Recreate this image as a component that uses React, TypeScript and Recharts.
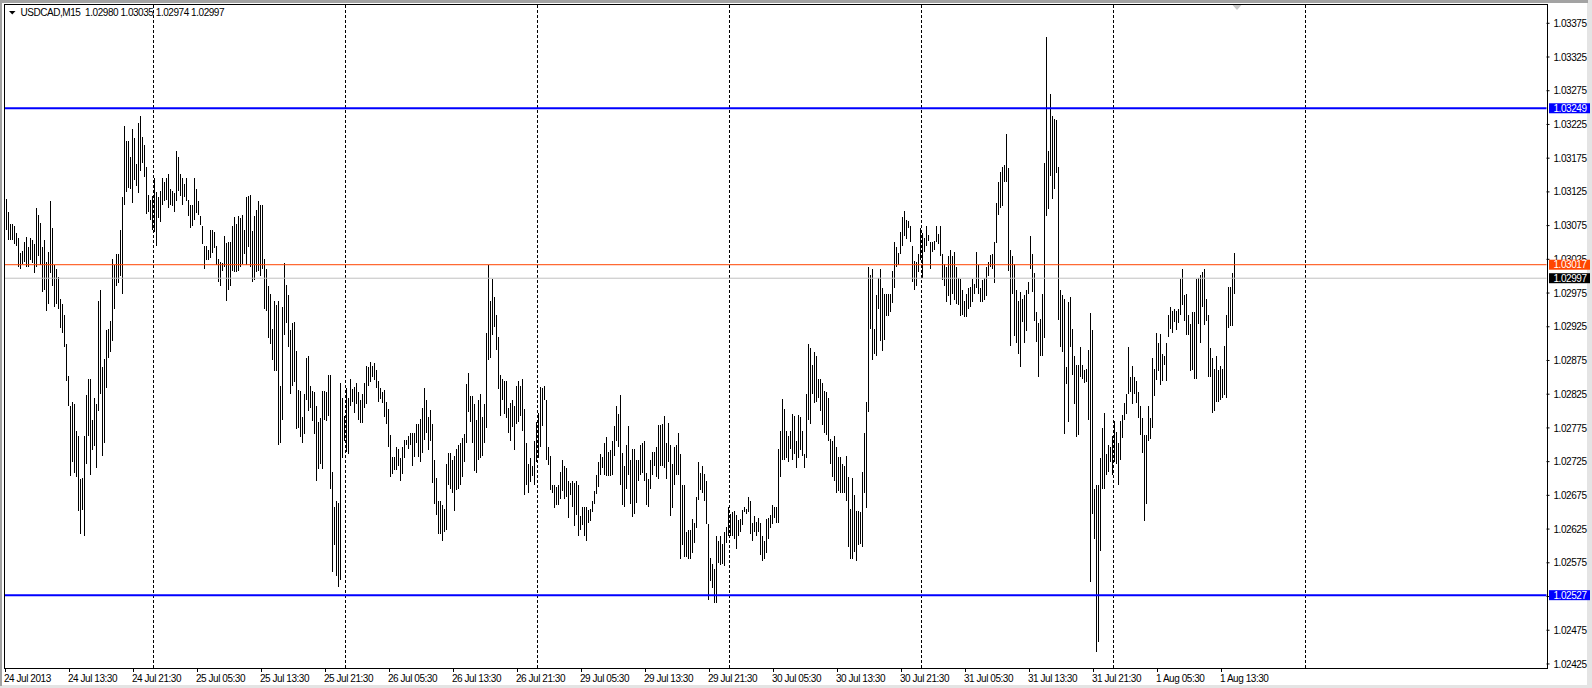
import React from 'react';
import { ComposedChart, Bar, XAxis, YAxis, ReferenceLine } from 'recharts';

// ---- data (USDCAD M15, one entry per 15-minute bar) ----
const SYMBOL = 'USDCAD,M15';
const lastBarOHLC = [1.0298, 1.03035, 1.02974, 1.02997];

const highs = [
  1.03115,1.03095,1.03078,1.03078,1.03074,1.03064,1.03057,1.03034,1.03037,1.03051,
  1.03058,1.03043,1.03057,1.03054,1.03048,1.03101,1.03091,1.03079,1.03043,1.03054,
  1.03021,1.03036,1.03112,1.03071,1.03017,1.03011,1.02999,1.02966,1.02959,1.02943,
  1.02899,1.02852,1.02808,1.02813,1.02810,1.02771,1.02763,1.02699,1.02701,1.02763,
  1.02824,1.02847,1.02848,1.02787,1.02820,1.02810,1.02963,1.02979,1.02866,1.02877,
  1.02920,1.02922,1.02934,1.03026,1.03016,1.03033,1.03033,1.03068,1.03117,1.03223,
  1.03200,1.03200,1.03176,1.03218,1.03205,1.03166,1.03227,1.03238,1.03207,1.03194,
  1.03162,1.03121,1.03113,1.03119,1.03145,1.03125,1.03118,1.03127,1.03145,1.03139,
  1.03146,1.03152,1.03129,1.03127,1.03124,1.03185,1.03177,1.03152,1.03146,1.03136,
  1.03146,1.03113,1.03106,1.03105,1.03145,1.03130,1.03111,1.03089,1.03074,1.03045,
  1.03045,1.03039,1.03068,1.03068,1.03066,1.03045,1.03026,1.03021,1.03020,1.03060,
  1.03049,1.03051,1.03051,1.03074,1.03088,1.03077,1.03089,1.03086,1.03091,1.03068,
  1.03118,1.03119,1.03121,1.03067,1.03089,1.03098,1.03111,1.03106,1.03106,1.03026,
  1.03010,1.02986,1.02974,1.02922,1.02963,1.02958,1.02963,1.02837,1.02954,1.03020,
  1.02987,1.02972,1.02920,1.02930,1.02932,1.02889,1.02831,1.02830,1.02791,1.02826,
  1.02879,1.02882,1.02837,1.02830,1.02828,1.02808,1.02784,1.02790,1.02830,1.02830,
  1.02828,1.02854,1.02853,1.02709,1.02658,1.02667,1.02664,1.02841,1.02819,1.02793,
  1.02834,1.02820,1.02848,1.02832,1.02835,1.02842,1.02828,1.02816,1.02825,1.02842,
  1.02867,1.02866,1.02873,1.02867,1.02871,1.02861,1.02845,1.02834,1.02828,1.02831,
  1.02813,1.02803,1.02765,1.02732,1.02732,1.02746,1.02743,1.02731,1.02746,1.02757,
  1.02757,1.02763,1.02767,1.02767,1.02767,1.02781,1.02781,1.02788,1.02804,1.02834,
  1.02816,1.02791,1.02801,1.02781,1.02728,1.02701,1.02667,1.02667,1.02661,1.02655,
  1.02721,1.02738,1.02738,1.02728,1.02734,1.02744,1.02750,1.02752,1.02760,1.02766,
  1.02840,1.02857,1.02822,1.02822,1.02810,1.02787,1.02816,1.02826,1.02791,1.02810,
  1.02916,1.03017,1.02963,1.02996,1.02969,1.02942,1.02910,1.02854,1.02848,1.02845,
  1.02845,1.02804,1.02812,1.02816,1.02807,1.02837,1.02845,1.02837,1.02847,1.02803,
  1.02753,1.02722,1.02731,1.02719,1.02756,1.02784,1.02797,1.02835,1.02834,1.02837,
  1.02816,1.02746,1.02734,1.02691,1.02690,1.02687,1.02690,1.02709,1.02728,1.02718,
  1.02716,1.02696,1.02693,1.02696,1.02693,1.02697,1.02691,1.02644,1.02658,1.02658,
  1.02658,1.02654,1.02655,1.02667,1.02681,1.02705,1.02725,1.02737,1.02732,1.02752,
  1.02762,1.02740,1.02742,1.02755,1.02778,1.02808,1.02796,1.02824,1.02738,1.02718,
  1.02749,1.02778,1.02728,1.02744,1.02743,1.02728,1.02728,1.02750,1.02753,1.02755,
  1.02708,1.02699,1.02728,1.02740,1.02740,1.02747,1.02779,1.02779,1.02781,1.02793,
  1.02752,1.02783,1.02750,1.02722,1.02746,1.02749,1.02767,1.02737,1.02691,1.02691,
  1.02620,1.02624,1.02624,1.02640,1.02634,1.02672,1.02724,1.02708,1.02719,1.02706,
  1.02697,1.02633,1.02582,1.02573,1.02566,1.02615,1.02607,1.02615,1.02603,1.02620,
  1.02628,1.02658,1.02648,1.02650,1.02652,1.02646,1.02638,1.02640,1.02654,1.02658,
  1.02655,1.02672,1.02667,1.02634,1.02644,1.02636,1.02642,1.02634,1.02614,1.02608,
  1.02640,1.02642,1.02646,1.02661,1.02658,1.02658,1.02743,1.02771,1.02818,1.02803,
  1.02771,1.02763,1.02771,1.02796,1.02793,1.02755,1.02794,1.02791,1.02771,1.02736,
  1.02825,1.02900,1.02894,1.02869,1.02887,1.02881,1.02848,1.02847,1.02842,1.02830,
  1.02828,1.02820,1.02759,1.02756,1.02763,1.02746,1.02732,1.02732,1.02722,1.02719,
  1.02734,1.02702,1.02655,1.02701,1.02675,1.02652,1.02652,1.02650,1.02709,1.02767,
  1.02814,1.03013,1.03002,1.03011,1.02922,1.02972,1.02998,1.03010,1.02982,1.02974,
  1.02974,1.02973,1.02973,1.03007,1.03051,1.03043,1.03035,1.03065,1.03088,1.03096,
  1.03084,1.03082,1.03074,1.03045,1.03023,1.03021,1.03033,1.03071,1.03064,1.03057,
  1.03074,1.03061,1.03051,1.03051,1.03052,1.03074,1.03062,1.03074,1.03033,1.03018,
  1.03013,1.03030,1.03039,1.03030,1.03036,1.03013,1.02998,1.02996,1.02980,1.02963,
  1.02973,1.02983,1.02984,1.02996,1.02989,1.03036,1.03017,1.02982,1.02995,1.02998,
  1.03013,1.03021,1.03031,1.03033,1.03051,1.03108,1.03139,1.03155,1.03162,1.03165,
  1.03211,1.03160,1.03039,1.03030,1.03018,1.02980,1.02963,1.02977,1.02966,1.02972,
  1.02980,1.02992,1.03060,1.03033,1.03004,1.02947,1.02930,1.02936,1.02974,1.03168,
  1.03354,1.03186,1.03270,1.03238,1.03233,1.03231,1.03162,1.02980,1.02972,1.02966,
  1.02866,1.02961,1.02969,1.02922,1.02881,1.02869,1.02869,1.02895,1.02869,1.02861,
  1.02863,1.02891,1.02946,1.02920,1.02685,1.02690,1.02690,1.02731,1.02775,1.02797,
  1.02736,1.02749,1.02746,1.02763,1.02785,1.02769,1.02752,1.02785,1.02794,1.02812,
  1.02826,1.02895,1.02851,1.02867,1.02851,1.02844,1.02828,1.02807,1.02790,1.02765,
  1.02765,1.02808,1.02790,1.02879,1.02863,1.02916,1.02901,1.02914,1.02884,1.02882,
  1.02901,1.02943,1.02954,1.02949,1.02951,1.02949,1.02951,1.02996,1.03010,1.02972,
  1.02973,1.02942,1.02929,1.02947,1.02947,1.02996,1.02998,1.03002,1.03006,1.03010,
  1.02966,1.02943,1.02894,1.02879,1.02863,1.02881,1.02861,1.02867,1.02863,1.02896,
  1.02943,1.02984,1.02984,1.03004,1.03035,
];

const lows = [
  1.03068,1.03054,1.03053,1.03054,1.03048,1.03045,1.03014,1.03010,1.03018,1.03021,
  1.03014,1.03013,1.03024,1.03020,1.03005,1.03013,1.03030,1.03016,1.02976,1.02979,
  1.02949,1.02959,1.03004,1.02986,1.02954,1.02959,1.02951,1.02923,1.02916,1.02895,
  1.02844,1.02807,1.02703,1.02725,1.02708,1.02702,1.02652,1.02617,1.02654,1.02614,
  1.02722,1.02763,1.02705,1.02742,1.02748,1.02715,1.02800,1.02825,1.02734,1.02752,
  1.02834,1.02878,1.02887,1.02904,1.02951,1.02985,1.02990,1.03001,1.02973,1.03106,
  1.03125,1.03131,1.03130,1.03109,1.03142,1.03133,1.03124,1.03156,1.03168,1.03147,
  1.03092,1.03095,1.03083,1.03068,1.03065,1.03045,1.03086,1.03080,1.03105,1.03112,
  1.03113,1.03101,1.03106,1.03104,1.03095,1.03112,1.03127,1.03119,1.03105,1.03118,
  1.03112,1.03089,1.03072,1.03074,1.03084,1.03094,1.03090,1.03076,1.03048,1.03011,
  1.03024,1.03024,1.03027,1.03035,1.03042,1.03016,1.02992,1.02986,1.03007,1.03013,
  1.02963,1.02979,1.02986,1.03007,1.03006,1.03006,1.03008,1.03013,1.03018,1.03033,
  1.03017,1.03043,1.03014,1.02991,1.02994,1.03006,1.03008,1.03001,1.03010,1.02951,
  1.02948,1.02908,1.02900,1.02875,1.02860,1.02860,1.02749,1.02753,1.02787,1.02913,
  1.02930,1.02895,1.02826,1.02837,1.02843,1.02773,1.02775,1.02762,1.02752,1.02766,
  1.02816,1.02800,1.02805,1.02785,1.02766,1.02696,1.02714,1.02722,1.02714,1.02787,
  1.02785,1.02793,1.02684,1.02561,1.02601,1.02555,1.02539,1.02549,1.02731,1.02755,
  1.02740,1.02737,1.02808,1.02813,1.02797,1.02810,1.02787,1.02783,1.02783,1.02805,
  1.02810,1.02837,1.02843,1.02851,1.02846,1.02834,1.02813,1.02818,1.02812,1.02791,
  1.02781,1.02746,1.02702,1.02706,1.02712,1.02712,1.02719,1.02697,1.02706,1.02731,
  1.02750,1.02744,1.02750,1.02719,1.02732,1.02752,1.02732,1.02724,1.02738,1.02757,
  1.02767,1.02742,1.02755,1.02693,1.02662,1.02646,1.02618,1.02617,1.02608,1.02621,
  1.02623,1.02691,1.02684,1.02678,1.02652,1.02683,1.02684,1.02690,1.02702,1.02725,
  1.02752,1.02799,1.02784,1.02752,1.02711,1.02708,1.02728,1.02730,1.02734,1.02752,
  1.02775,1.02875,1.02879,1.02913,1.02925,1.02891,1.02832,1.02793,1.02816,1.02796,
  1.02790,1.02767,1.02756,1.02777,1.02742,1.02781,1.02784,1.02793,1.02771,1.02675,
  1.02690,1.02679,1.02695,1.02703,1.02690,1.02725,1.02731,1.02746,1.02778,1.02816,
  1.02728,1.02720,1.02683,1.02679,1.02656,1.02661,1.02661,1.02670,1.02681,1.02670,
  1.02672,1.02642,1.02675,1.02658,1.02630,1.02646,1.02614,1.02624,1.02631,1.02614,
  1.02607,1.02634,1.02637,1.02650,1.02662,1.02677,1.02687,1.02705,1.02716,1.02705,
  1.02703,1.02703,1.02703,1.02705,1.02734,1.02755,1.02746,1.02691,1.02661,1.02658,
  1.02684,1.02705,1.02662,1.02643,1.02648,1.02664,1.02696,1.02705,1.02708,1.02696,
  1.02661,1.02658,1.02684,1.02705,1.02719,1.02702,1.02699,1.02719,1.02718,1.02715,
  1.02699,1.02724,1.02644,1.02656,1.02690,1.02705,1.02705,1.02580,1.02602,1.02583,
  1.02583,1.02580,1.02581,1.02590,1.02605,1.02627,1.02668,1.02683,1.02679,1.02667,
  1.02633,1.02520,1.02548,1.02538,1.02515,1.02515,1.02574,1.02572,1.02573,1.02570,
  1.02605,1.02614,1.02614,1.02614,1.02611,1.02596,1.02614,1.02620,1.02631,1.02650,
  1.02648,1.02650,1.02617,1.02608,1.02620,1.02614,1.02620,1.02586,1.02577,1.02581,
  1.02590,1.02611,1.02626,1.02633,1.02642,1.02634,1.02634,1.02702,1.02728,1.02728,
  1.02730,1.02724,1.02743,1.02728,1.02736,1.02716,1.02731,1.02742,1.02734,1.02716,
  1.02731,1.02787,1.02781,1.02825,1.02812,1.02813,1.02819,1.02800,1.02779,1.02767,
  1.02765,1.02755,1.02722,1.02702,1.02696,1.02679,1.02681,1.02679,1.02679,1.02678,
  1.02667,1.02599,1.02580,1.02581,1.02591,1.02577,1.02601,1.02603,1.02599,1.02678,
  1.02656,1.02798,1.02922,1.02875,1.02884,1.02882,1.02951,1.02904,1.02889,1.02906,
  1.02941,1.02941,1.02947,1.02960,1.02983,1.03014,1.03017,1.03033,1.03045,1.03060,
  1.03055,1.03071,1.03051,1.02992,1.02980,1.02986,1.03006,1.03024,1.02998,1.03036,
  1.03045,1.03052,1.03011,1.03036,1.03039,1.03051,1.03048,1.03030,1.02994,1.02986,
  1.02961,1.02970,1.02957,1.02974,1.02965,1.02959,1.02957,1.02941,1.02942,1.02939,
  1.02939,1.02951,1.02955,1.02961,1.02973,1.02983,1.02973,1.02961,1.02961,1.02965,
  1.02970,1.03000,1.03013,1.03010,1.02990,1.03049,1.03090,1.03101,1.03104,1.03139,
  1.03139,1.03007,1.02896,1.02974,1.02912,1.02901,1.02884,1.02866,1.02932,1.02901,
  1.02918,1.02973,1.03010,1.02977,1.02934,1.02902,1.02850,1.02881,1.02882,1.02908,
  1.03089,1.03099,1.03149,1.03115,1.03130,1.03153,1.02935,1.02895,1.02887,1.02766,
  1.02840,1.02784,1.02895,1.02854,1.02810,1.02762,1.02765,1.02851,1.02847,1.02841,
  1.02843,1.02787,1.02546,1.02648,1.02611,1.02442,1.02457,1.02592,1.02684,1.02684,
  1.02705,1.02709,1.02724,1.02705,1.02724,1.02722,1.02691,1.02728,1.02760,1.02787,
  1.02796,1.02825,1.02828,1.02810,1.02825,1.02812,1.02789,1.02765,1.02738,1.02637,
  1.02662,1.02755,1.02758,1.02775,1.02822,1.02846,1.02859,1.02838,1.02844,1.02869,
  1.02844,1.02910,1.02922,1.02916,1.02932,1.02920,1.02930,1.02943,1.02957,1.02934,
  1.02913,1.02913,1.02860,1.02861,1.02848,1.02847,1.02929,1.02901,1.02954,1.02928,
  1.02934,1.02851,1.02850,1.02797,1.02800,1.02813,1.02814,1.02816,1.02819,1.02824,
  1.02820,1.02923,1.02926,1.02926,1.02974,
];

// time axis: label every 32 bars (8 hours)
const timeLabels = [
  '24 Jul 2013', '24 Jul 13:30', '24 Jul 21:30', '25 Jul 05:30', '25 Jul 13:30',
  '25 Jul 21:30', '26 Jul 05:30', '26 Jul 13:30', '26 Jul 21:30', '29 Jul 05:30',
  '29 Jul 13:30', '29 Jul 21:30', '30 Jul 05:30', '30 Jul 13:30', '30 Jul 21:30',
  '31 Jul 05:30', '31 Jul 13:30', '31 Jul 21:30', '1 Aug 05:30', '1 Aug 13:30',
];
const BARS_PER_LABEL = 32;
// bar index of each day start (00:00)
const daySeparators = [74, 170, 266, 362, 458, 554, 650];
// total visible time slots (incl. empty space on the right)
const TOTAL_SLOTS = 771;

const priceTicks = [
  1.02425, 1.02475, 1.02525, 1.02575, 1.02625, 1.02675, 1.02725, 1.02775, 1.02825, 1.02875,
  1.02925, 1.02975, 1.03025, 1.03075, 1.03125, 1.03175, 1.03225, 1.03275, 1.03325, 1.03375,
];
const priceDomain = [1.02419, 1.034036];

const channelLevels = [1.03249, 1.02527];
const alertLevel = 1.03017;
const bidLevel = 1.02997;

// ---- chart ----
const FONT = '"Liberation Sans", Arial, sans-serif';
const CHART_W = 1592;
const CHART_H = 688;
const MARGIN = { top: 4, right: 0, bottom: 0, left: 4.5 };

const data = Array.from({ length: TOTAL_SLOTS }, (_, i) => ({
  i,
  range: i < highs.length ? [lows[i], highs[i]] : null,
}));
const labelIndices = timeLabels.map((_, k) => k * BARS_PER_LABEL);

const HLBar = (props: any) => {
  const { x, y, height, payload } = props;
  if (!payload || !payload.range) return <g />;
  const top = Math.min(y, y + height);
  const h = Math.max(1, Math.abs(height));
  return (
    <rect
      x={Math.floor(x + 0.6)}
      y={top}
      width={1}
      height={h}
      fill="#000"
      shapeRendering="crispEdges"
    />
  );
};

const PriceTag = (props: any) => {
  const { viewBox, value, bg, fg } = props;
  if (!viewBox) return null;
  const x0 = viewBox.x + viewBox.width + 2.5;
  const y0 = viewBox.y;
  return (
    <g>
      <rect x={x0} y={y0 - 5} width={41} height={10} fill={bg} />
      <text
        x={x0 + 4.5}
        y={y0 + 3.6}
        fill={fg}
        fontFamily={FONT}
        fontSize={10}
        letterSpacing={-0.45}
      >
        {value.toFixed(5)}
      </text>
    </g>
  );
};

const XTick = (props: any) => {
  const { x, y, payload } = props;
  const label = timeLabels[Math.round(payload.value / BARS_PER_LABEL)];
  return (
    <text
      x={x - 1.5}
      y={y + 9.5}
      fill="#000"
      fontFamily={FONT}
      fontSize={10}
      letterSpacing={-0.45}
      textAnchor="start"
    >
      {label}
    </text>
  );
};

const YTick = (props: any) => {
  const { x, y, payload } = props;
  return (
    <text
      x={x}
      y={y + 3.6}
      fill="#000"
      fontFamily={FONT}
      fontSize={10}
      letterSpacing={-0.45}
      textAnchor="start"
    >
      {payload.value.toFixed(5)}
    </text>
  );
};

export default function App() {
  return (
    <div
      style={{
        position: 'absolute',
        left: 0,
        top: 0,
        width: CHART_W,
        height: CHART_H,
        background: '#e4e4e4',
        overflow: 'hidden',
      }}
    >
      <div style={{ position: 'absolute', left: 0, top: 0, width: 1588, height: 3, background: '#a3a3a3' }} />
      <div style={{ position: 'absolute', left: 0, top: 0, width: 2, height: 686, background: '#a3a3a3' }} />
      <div
        style={{ position: 'absolute', left: 2, top: 3, width: 1585, height: 682, background: '#fff' }}
      />
      {/* main chart: bars, axes, day separators */}
      <div style={{ position: 'absolute', left: 0, top: 0 }}>
        <ComposedChart
          width={CHART_W}
          height={CHART_H}
          data={data}
          margin={MARGIN}
          barCategoryGap={0}
        >
          <XAxis
            dataKey="i"
            type="category"
            ticks={labelIndices}
            interval={0}
            height={20}
            axisLine={false}
            tickLine={{ stroke: '#000' }}
            tickSize={4}
            tickMargin={0}
            tick={<XTick />}
          />
          <YAxis
            orientation="right"
            type="number"
            domain={priceDomain}
            allowDataOverflow
            ticks={priceTicks}
            interval={0}
            width={45.5}
            axisLine={false}
            tickLine={{ stroke: '#000' }}
            tickSize={3}
            tickMargin={4}
            tick={<YTick />}
          />
          {daySeparators.map((d) => (
            <ReferenceLine
              key={'d' + d}
              x={d}
              stroke="#000"
              strokeWidth={1}
              strokeDasharray="3 2"
              ifOverflow="visible"
            />
          ))}
          <Bar
            dataKey="range"
            barSize={1}
            isAnimationActive={false}
            shape={<HLBar />}
          />
        </ComposedChart>
      </div>
      {/* overlay chart with the same scales: horizontal levels and their price tags, drawn above the axis labels */}
      <div style={{ position: 'absolute', left: 0, top: 0, pointerEvents: 'none' }}>
        <ComposedChart
          width={CHART_W}
          height={CHART_H}
          data={data}
          margin={MARGIN}
          barCategoryGap={0}
        >
          <XAxis
            dataKey="i"
            type="category"
            height={20}
            axisLine={false}
            tickLine={false}
            tick={false}
          />
          <YAxis
            orientation="right"
            type="number"
            domain={priceDomain}
            allowDataOverflow
            width={45.5}
            axisLine={false}
            tickLine={false}
            tick={false}
          />
          <ReferenceLine
            y={bidLevel}
            stroke="#c0c0c0"
            strokeWidth={1}
            label={<PriceTag value={bidLevel} bg="#000" fg="#fff" />}
          />
          <ReferenceLine
            y={alertLevel}
            stroke="#ff4500"
            strokeWidth={1}
            label={<PriceTag value={alertLevel} bg="#ff4500" fg="#fff" />}
          />
          {channelLevels.map((v) => (
            <ReferenceLine
              key={'c' + v}
              y={v}
              stroke="#0000ff"
              strokeWidth={2}
              label={<PriceTag value={v} bg="#0000ff" fg="#fff" />}
            />
          ))}
        </ComposedChart>
      </div>
      <div
        style={{
          position: 'absolute',
          left: 4,
          top: 4,
          width: 1544,
          height: 665,
          border: '1px solid #000',
          boxSizing: 'border-box',
          pointerEvents: 'none',
        }}
      />
      {/* chart-shift marker on the top border */}
      <svg style={{ position: 'absolute', left: 1230, top: 4 }} width={14} height={8}>
        <polygon points="2.5,1 11.5,1 7,6" fill="#c8c8c8" />
      </svg>
      <svg
        style={{ position: 'absolute', left: 0, top: 0 }}
        width={320}
        height={22}
      >
        <polygon points="9,11 15.5,11 12.25,14.5" fill="#000" />
        <text
          x={20.5}
          y={16.2}
          fill="#000"
          fontFamily={FONT}
          fontSize={10}
          letterSpacing={-0.45}
          style={{ whiteSpace: 'pre' }}
        >
          {SYMBOL + '  ' + lastBarOHLC.map((v) => v.toFixed(5)).join(' ')}
        </text>
      </svg>
    </div>
  );
}
